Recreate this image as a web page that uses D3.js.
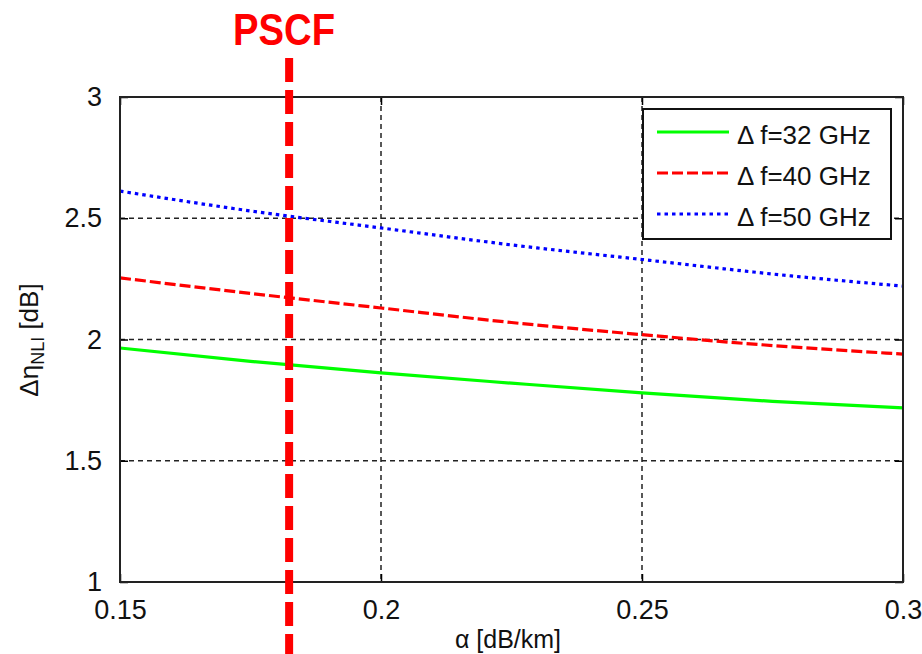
<!DOCTYPE html>
<html>
<head>
<meta charset="utf-8">
<script src="https://cdn.jsdelivr.net/npm/d3@7"></script>
<style>
html, body { margin: 0; padding: 0; background: #fff; }
svg { display: block; }
text { font-family: "Liberation Sans", Arial, sans-serif; }
</style>
</head>
<body>
<svg id="chart" width="922" height="654"></svg>
<script>
// Data
const alphaValues = [0.15, 0.175, 0.2, 0.225, 0.25, 0.275, 0.3];
const series32 = [1.965, 1.91, 1.862, 1.82, 1.78, 1.745, 1.718];
const series40 = [2.254, 2.19, 2.13, 2.07, 2.02, 1.975, 1.94];
const series50 = [2.612, 2.53, 2.46, 2.39, 2.33, 2.27, 2.22];
const seriesNames = ["\u0394 f=32 GHz", "\u0394 f=40 GHz", "\u0394 f=50 GHz"];
const xTicks = [0.15, 0.2, 0.25, 0.3];
const xTickLabels = ["0.15", "0.2", "0.25", "0.3"];
const yTicks = [1, 1.5, 2, 2.5, 3];
const yTickLabels = ["1", "1.5", "2", "2.5", "3"];
const pscfAlpha = 0.1824;
const pscfLabel = "PSCF";

(function () {
const svg = d3.select("#chart");
const pL = 120, pR = 903, pT = 97, pB = 582;

const x = d3.scaleLinear().domain([0.15, 0.3]).range([pL, pR]);
const y = d3.scaleLinear().domain([1, 3]).range([pB, pT]);

// Grid
const grid = svg.append("g");
xTicks.slice(1, -1).forEach(t => {
  grid.append("line").attr("x1", x(t)).attr("x2", x(t)).attr("y1", pT).attr("y2", pB)
    .attr("stroke", "#222").attr("stroke-width", 1.5).attr("stroke-dasharray", "5,4");
});
yTicks.slice(1, -1).forEach(t => {
  grid.append("line").attr("x1", pL).attr("x2", pR).attr("y1", y(t)).attr("y2", y(t))
    .attr("stroke", "#222").attr("stroke-width", 1.5).attr("stroke-dasharray", "5,4");
});

// Axes via d3 axis generators (labels)
const xAxis = d3.axisBottom(x).tickValues(xTicks).tickFormat((d, i) => xTickLabels[i]).tickSizeInner(-8).tickSizeOuter(0).tickPadding(18);
const gx = svg.append("g").attr("transform", `translate(0,${pB})`).call(xAxis);
gx.select(".domain").remove();
gx.selectAll("line").attr("stroke", "#000").attr("stroke-width", 1.5);
gx.selectAll("text").attr("font-size", 27).attr("fill", "#111").attr("font-family", "Liberation Sans, Arial, sans-serif");

const yAxis = d3.axisLeft(y).tickValues(yTicks).tickFormat((d, i) => yTickLabels[i]).tickSizeInner(-8).tickSizeOuter(0).tickPadding(18);
const gy = svg.append("g").attr("transform", `translate(${pL},0)`).call(yAxis);
gy.select(".domain").remove();
gy.selectAll("line").attr("stroke", "#000").attr("stroke-width", 1.5);
gy.selectAll("text").attr("font-size", 27).attr("fill", "#111").attr("font-family", "Liberation Sans, Arial, sans-serif");

// Top & right ticks
const gxt = svg.append("g").attr("transform", `translate(0,${pT})`).call(d3.axisTop(x).tickValues(xTicks).tickSizeInner(-8).tickSizeOuter(0).tickFormat(""));
gxt.select(".domain").remove();
gxt.selectAll("line").attr("stroke", "#000").attr("stroke-width", 1.5);
const gyr = svg.append("g").attr("transform", `translate(${pR},0)`).call(d3.axisRight(y).tickValues(yTicks).tickSizeInner(-8).tickSizeOuter(0).tickFormat(""));
gyr.select(".domain").remove();
gyr.selectAll("line").attr("stroke", "#000").attr("stroke-width", 1.5);

// Lines
const line = d3.line().x((d, i) => x(alphaValues[i])).y(d => y(d)).curve(d3.curveMonotoneX);
const styles = [
  { data: series32, color: "#00ff00", dash: null },
  { data: series40, color: "#ff0000", dash: "11,4" },
  { data: series50, color: "#0000ff", dash: "3.5,4" }
];
styles.forEach(s => {
  svg.append("path").datum(s.data).attr("d", line).attr("fill", "none")
    .attr("stroke", s.color).attr("stroke-width", 3.2).attr("stroke-dasharray", s.dash);
});

// Box
svg.append("rect").attr("x", pL).attr("y", pT).attr("width", pR - pL).attr("height", pB - pT)
  .attr("fill", "none").attr("stroke", "#222").attr("stroke-width", 2);

// Legend
const lg = svg.append("g");
lg.append("rect").attr("x", 643).attr("y", 109).attr("width", 248).attr("height", 130)
  .attr("fill", "#fff").attr("stroke", "#111").attr("stroke-width", 2);
styles.forEach((s, i) => {
  const cy = 132 + i * 41;
  lg.append("line").attr("x1", 657).attr("x2", 729).attr("y1", cy).attr("y2", cy)
    .attr("stroke", s.color).attr("stroke-width", 3.2).attr("stroke-dasharray", s.dash);
  lg.append("text").attr("x", 737).attr("y", cy + 12).attr("font-size", 26).attr("fill", "#111")
    .text(seriesNames[i]);
});

// Axis labels
svg.append("text").attr("x", 508).attr("y", 648).attr("text-anchor", "middle").attr("font-size", 25).attr("fill", "#111")
  .text("\u03b1 [dB/km]");
const yl = svg.append("text").attr("transform", "translate(38,340) rotate(-90)").attr("text-anchor", "middle")
  .attr("font-size", 26).attr("fill", "#111");
yl.append("tspan").text("\u0394\u03b7");
yl.append("tspan").attr("font-size", 18).attr("dy", 6).text("NLI");
yl.append("tspan").attr("dy", -6).text(" [dB]");

// PSCF marker
svg.append("line").attr("x1", x(pscfAlpha)).attr("x2", x(pscfAlpha)).attr("y1", 58).attr("y2", 654)
  .attr("stroke", "#ff0000").attr("stroke-width", 8).attr("stroke-dasharray", "24,8");
svg.append("text").attr("x", 233).attr("y", 45)
  .attr("font-family", "'Open Sans', 'Noto Sans', sans-serif").attr("font-weight", 700).attr("font-size", 44)
  .attr("textLength", 102).attr("lengthAdjust", "spacingAndGlyphs")
  .attr("fill", "#ff0000").text(pscfLabel);
})();
</script>
</body>
</html>
